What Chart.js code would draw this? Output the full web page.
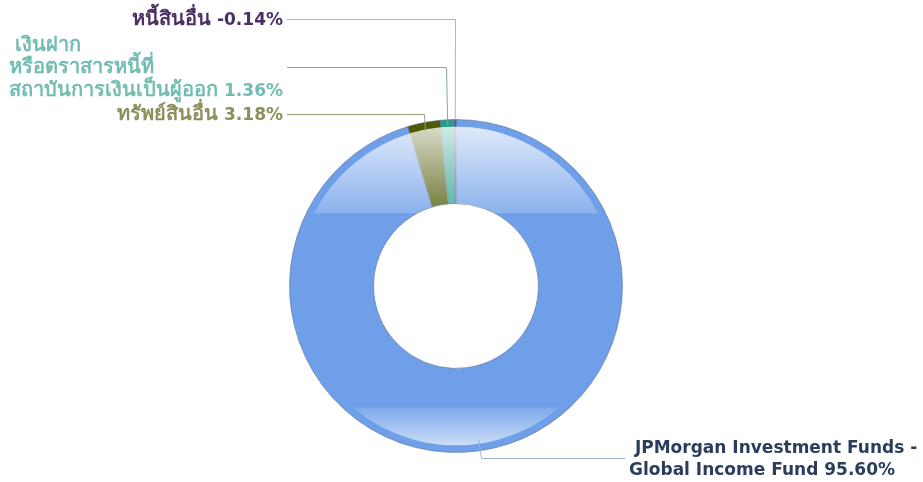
<!DOCTYPE html>
<html><head><meta charset="utf-8">
<script src="https://cdn.jsdelivr.net/npm/chart.js@4/dist/chart.umd.min.js"></script>
<style>html,body{margin:0;padding:0;background:#fff}#wrap{width:923px;height:482px}</style>
</head><body><div id="wrap"><canvas id="c" width="923" height="482"></canvas></div>
<script>
const categories = [' JPMorgan Investment Funds -\nGlobal Income Fund', 'ทรัพย์สินอื่น', ' เงินฝาก\nหรือตราสารหนี้ที่\nสถาบันการเงินเป็นผู้ออก', 'หนี้สินอื่น'];
const values = [95.60, 3.18, 1.36, -0.14];
const sliceColors = ['#6e9fe8', '#4f5a05', '#2a9c8c', '#6b4a8a'];
const labelColors = ['#2b3d5c', '#8c8e5c', '#72bdb1', '#4a2f63'];
const lineColors = ['#9fb3d6', '#9a9c78', '#80aaa2', '#c4a8d4'];

const FONT_LATIN = 'bold 17px Tahoma, "DejaVu Sans", sans-serif';
const FONT_THAI = 'bold 20px Tahoma, "DejaVu Sans", sans-serif';

function runs(s) {
  return s.split(/([\u0E00-\u0E7F]+)/).filter(t => t.length).map(t => ({
    t, font: /[\u0E00-\u0E7F]/.test(t) ? FONT_THAI : FONT_LATIN
  }));
}
function lineWidth(ctx, s) {
  let w = 0;
  runs(s).forEach(r => { ctx.font = r.font; w += ctx.measureText(r.t).width; });
  return w;
}
function drawLine(ctx, s, x, y) {
  runs(s).forEach(r => { ctx.font = r.font; ctx.fillText(r.t, x, y); x += ctx.measureText(r.t).width; });
}

const leaderPlugin = {
  id: 'leaders',
  afterDatasetsDraw(chart, args, opts) {
    const ctx = chart.ctx;
    const meta = chart.getDatasetMeta(0);
    const a0 = meta.data[0].getProps(['x', 'y', 'outerRadius', 'innerRadius'], true);
    const cx = a0.x, cy = a0.y, R = a0.outerRadius, r = a0.innerRadius;
    // gloss bands
    ctx.save();
    ctx.beginPath();
    ctx.arc(cx, cy, R - 7, 0, Math.PI * 2);
    ctx.arc(cx, cy, r, 0, Math.PI * 2, true);
    ctx.clip('evenodd');
    const t0 = cy - R + 7, t1 = cy - R * 0.437;
    let g = ctx.createLinearGradient(0, t0, 0, t1);
    g.addColorStop(0, 'rgba(255,255,255,0.78)');
    g.addColorStop(1, 'rgba(255,255,255,0.2)');
    ctx.fillStyle = g;
    ctx.fillRect(cx - R, t0, 2 * R, t1 - t0);
    const b0 = cy + R * 0.73, b1 = cy + R - 7;
    g = ctx.createLinearGradient(0, b0, 0, b1);
    g.addColorStop(0, 'rgba(255,255,255,0.1)');
    g.addColorStop(1, 'rgba(255,255,255,0.65)');
    ctx.fillStyle = g;
    ctx.fillRect(cx - R, b0, 2 * R, b1 - b0);
    ctx.restore();

    // leader lines and labels
    ctx.save();
    ctx.textBaseline = 'alphabetic';
    ctx.textAlign = 'left';
    meta.data.forEach((arc, i) => {
      const p = arc.getProps(['x', 'y', 'startAngle', 'endAngle', 'outerRadius'], true);
      const mid = (p.startAngle + p.endAngle) / 2;
      const rr = p.outerRadius - opts.inset[i];
      const ax = p.x + Math.cos(mid) * rr, ay = p.y + Math.sin(mid) * rr;
      const ex = Math.round(ax + opts.dx[i]) + 0.5;
      const ly = opts.y[i];
      const left = opts.side[i] === 'left';
      const hx = left ? opts.leftEdge : opts.rightEdge;
      ctx.strokeStyle = lineColors[i];
      ctx.lineWidth = 1;
      ctx.beginPath();
      ctx.moveTo(hx, Math.round(ly) + 0.5);
      ctx.lineTo(ex, Math.round(ly) + 0.5);
      ctx.lineTo(ax, ay);
      ctx.stroke();
      const text = categories[i] + ' ' + values[i].toFixed(2) + '%';
      const lines = text.split('\n');
      const w = Math.max(...lines.map(s => lineWidth(ctx, s)));
      const bx = left ? hx - opts.gap - w : hx + opts.gap;
      ctx.fillStyle = labelColors[i];
      lines.forEach((s, k) => {
        drawLine(ctx, s, bx, ly + (k - (lines.length - 1) / 2) * opts.lineHeight + opts.baseShift);
      });
    });
    ctx.restore();
  }
};

new Chart(document.getElementById('c'), {
  type: 'doughnut',
  data: {
    labels: categories,
    datasets: [{
      data: values,
      backgroundColor: sliceColors,
      borderColor: 'rgba(90,105,140,0.55)',
      borderWidth: 1
    }]
  },
  options: {
    responsive: false,
    animation: false,
    cutout: '49.5%',
    layout: { padding: { left: 289, right: 300, top: 119, bottom: 29 } },
    plugins: {
      legend: { display: false },
      tooltip: { enabled: false },
      leaders: {
        inset: [11, 8, 6, 0],
        dx: [2, -2, -2, 0],
        y: [458, 114, 67, 19],
        side: ['right', 'left', 'left', 'left'],
        leftEdge: 287,
        rightEdge: 625,
        gap: 4,
        lineHeight: 22.5,
        baseShift: 6
      }
    }
  },
  plugins: [leaderPlugin]
});
</script></body></html>
